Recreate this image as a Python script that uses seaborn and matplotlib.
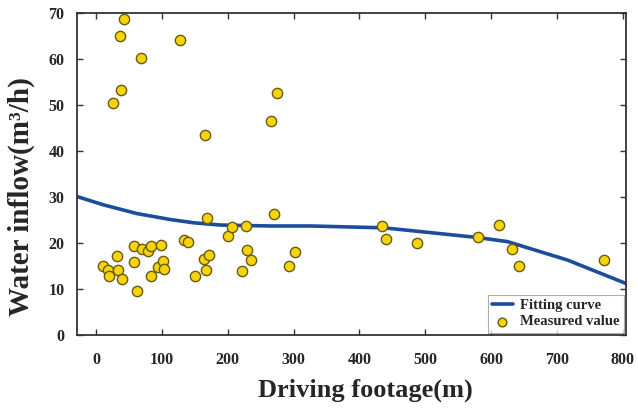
import numpy as np
import pandas as pd
import matplotlib
matplotlib.use("Agg")
import matplotlib.pyplot as plt
import seaborn as sns

# Measured values
meas_x = [43, 36.5, 127, 68.5, 37.5, 25.4, 275.5, 265, 166,
          11, 18, 20, 32.5, 34, 39, 57, 57, 62, 70, 79.6, 84, 84, 94, 98.5,
          101.5, 102.5, 134, 140, 150, 164, 167, 169, 171, 200, 206, 221,
          228, 229, 236, 271, 293, 302,
          434, 441, 488, 580, 612, 632, 643, 771]
meas_y = [68.7, 65, 64.2, 60.2, 53.3, 50.4, 52.7, 46.5, 43.5,
          15, 14.2, 12.9, 17.2, 14.1, 12.1, 19.3, 15.9, 9.6, 18.7, 18.3, 19.3, 12.8, 14.8, 19.6,
          16, 14.3, 20.6, 20.2, 12.8, 16.5, 14.1, 25.4, 17.3, 21.5, 23.5, 13.9,
          23.8, 18.5, 16.4, 26.3, 15.1, 18,
          23.8, 20.9, 20.1, 21.2, 24, 18.6, 15.1, 16.4]

# Fitting curve
fit_x = [-29, 11, 62, 113, 148, 189, 265, 326, 437, 478, 579, 625, 716, 805]
fit_y = [30.1, 28.3, 26.4, 25.1, 24.4, 23.9, 23.7, 23.7, 23.3, 22.7, 21.2, 20.3, 16.3, 11.2]

x_ticks = [0, 100, 200, 300, 400, 500, 600, 700, 800]
y_ticks = [0, 10, 20, 30, 40, 50, 60, 70]

sns.set_theme(style="ticks")
plt.rcParams['font.family'] = ['Liberation Serif', 'DejaVu Serif']

fig = plt.figure(figsize=(6.38, 4.08), dpi=100)
ax = fig.add_axes([77/638, 73/408, (626-77)/638, (335-13)/408])

sns.lineplot(x=fit_x, y=fit_y, ax=ax, color="#1c4c9c", linewidth=2.6,
             label="Fitting curve", zorder=2)
sns.scatterplot(x=meas_x, y=meas_y, ax=ax, color="#f5d50a", edgecolor="#6a5a10",
                linewidth=1.0, s=55, label="Measured value", zorder=3)

ax.set_xlim(-29, 805)
ax.set_ylim(0, 70)
ax.set_xticks(x_ticks)
ax.set_yticks(y_ticks)
ax.tick_params(direction="in", length=4, width=1.0, top=True, right=True,
               labelsize=11.5, color="#333333")
ax.tick_params(axis="x", pad=12)
ax.tick_params(axis="y", pad=9)
for lab in ax.get_xticklabels() + ax.get_yticklabels():
    lab.set_fontweight("bold")
for sp in ax.spines.values():
    sp.set_linewidth(1.3)
    sp.set_color("#333333")

ax.set_xlabel("Driving footage(m)", fontsize=19, fontweight="bold")
ax.xaxis.set_label_coords(0.525, -0.135)
ax.set_ylabel("Water inflow(m³/h)", fontsize=21, fontweight="bold")
ax.yaxis.set_label_coords(-0.077, 0.43)

leg = ax.legend(loc="lower right", fontsize=10.5, frameon=True, fancybox=False,
                edgecolor="#999999", borderpad=0.3, handlelength=1.4,
                handletextpad=0.5, labelspacing=0.2, borderaxespad=0.15,
                markerscale=0.85)
for t in leg.get_texts():
    t.set_fontweight("bold")
leg.get_frame().set_linewidth(0.8)

fig.savefig("out.png", dpi=100)
